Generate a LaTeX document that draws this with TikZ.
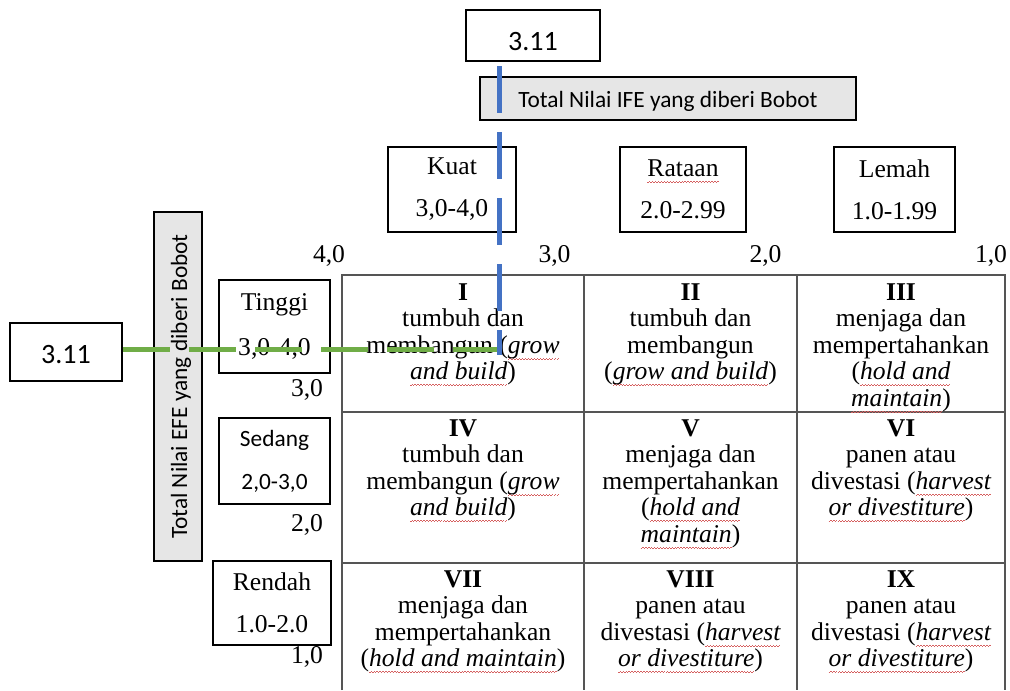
\documentclass[tikz,border=0pt]{standalone}
\usepackage{fontspec}
\setmainfont{Liberation Serif}
\newfontfamily\calibri{Carlito}
\definecolor{ifeblue}{RGB}{68,114,196}
\definecolor{efegreen}{RGB}{112,173,71}
\definecolor{axisgray}{RGB}{230,230,230}
\definecolor{gridgray}{RGB}{85,85,85}
\definecolor{spellred}{RGB}{214,96,96}
\newsavebox\spellbox
\newcommand\spell[1]{\sbox\spellbox{#1}\rlap{\hbox to\wd\spellbox{\color{spellred}%
  \xleaders\hbox{\rule[-4.8pt]{1.1pt}{0.55pt}\rule[-4.1pt]{1.1pt}{0.55pt}}\hfil}}\usebox\spellbox}
\begin{document}
\begin{tikzpicture}[x=0.75pt,y=-0.75pt,
  valbox/.style={draw,line width=1.6pt,inner sep=0pt,text depth=0pt,
    font=\calibri\fontsize{21}{21}\selectfont},
  axisbox/.style={draw,fill=axisgray,line width=1.8pt,inner sep=0pt,
    text depth=0pt,font=\calibri\fontsize{17.5}{17.5}\selectfont},
  rangebox/.style={draw,line width=1.3pt,inner sep=0pt,align=center,
    font=\fontsize{19.2}{31.5}\selectfont},
  scalelab/.style={anchor=base,inner sep=0pt,font=\fontsize{19.2}{20}\selectfont},
  cell/.style={anchor=north,align=center,inner sep=0pt,
    font=\fontsize{19.2}{19.9}\selectfont},
  gridline/.style={draw=gridgray,line width=1.1pt},
  ifeline/.style={draw=ifeblue,line width=3.75pt,dash pattern=on 35.25pt off 14.25pt},
  efeline/.style={ifeline,draw=efegreen}]
\useasboundingbox (0,0) rectangle (1010,690);
\node[valbox,minimum width=100.5pt,minimum height=38.25pt,text height=21.8pt] (ifeval) at (533,35.5) {3.11};
\node[valbox,minimum width=84pt,minimum height=43.5pt,text height=16.5pt] (efeval) at (66,352) {3.11};
\node[axisbox,minimum width=282pt,minimum height=31.9pt,text height=12.8pt] (ifeaxis) at (668,98.5)
  {Total Nilai IFE yang diberi Bobot};
\node[axisbox,rotate=90,minimum width=261.75pt,minimum height=36pt,text height=13.5pt] (efeaxis) at (178,386.5)
  {Total Nilai EFE yang diberi Bobot};
\node[rangebox,minimum width=96pt,minimum height=63.75pt] (kuat) at (452,189.5) {Kuat\\3,0-4,0};
\node[rangebox,minimum width=94.5pt,minimum height=63.75pt] (rataan) at (683,189.5) {\spell{Rataan}\\2.0-2.99};
\node[rangebox,minimum width=90.75pt,minimum height=63.75pt] (lemah) at (894.5,189.5) {Lemah\\1.0-1.99};
\node[rangebox,minimum width=83.25pt,minimum height=69.75pt,font=\fontsize{19.2}{33.75}\selectfont] (tinggi) at (274.5,326.5)
  {Tinggi\\3,0-4,0};
\node[rangebox,minimum width=83.25pt,minimum height=64.5pt,font=\calibri\fontsize{17.5}{32.25}\selectfont] (sedang) at (274.5,461)
  {Sedang\\2,0-3,0};
\node[rangebox,line width=1.8pt,minimum width=88.5pt,minimum height=63pt] (rendah) at (272,603) {Rendah\\1.0-2.0};
\node[scalelab] (ife4) at (329,262) {4,0};
\node[scalelab] (ife3) at (554.5,262) {3,0};
\node[scalelab] (ife2) at (765.5,262) {2,0};
\node[scalelab] (ife1) at (991,262) {1,0};
\node[scalelab] (efe3) at (307,396) {3,0};
\node[scalelab] (efe2) at (307,531) {2,0};
\node[scalelab] (efe1) at (307,663) {1,0};
\draw[gridline] (342,690) |- (1005,275) -- (1005,690);
\draw[gridline] (584,275) -- (584,690) (797,275) -- (797,690);
\draw[gridline] (342,412) -- (1005,412) (342,563) -- (1005,563);
\node[cell] (sel1) at (463,283) {\textbf{I}\\tumbuh dan\\membangun (\textit{\spell{grow}}\\\textit{\spell{and build}})};
\node[cell] (sel2) at (690.5,283) {\textbf{II}\\tumbuh dan\\membangun\\(\textit{\spell{grow and build}})};
\node[cell] (sel3) at (901,283) {\textbf{III}\\menjaga dan\\mempertahankan\\(\textit{\spell{hold and}}\\\textit{\spell{maintain}})};
\node[cell] (sel4) at (463,419) {\textbf{IV}\\tumbuh dan\\membangun (\textit{\spell{grow}}\\\textit{\spell{and build}})};
\node[cell] (sel5) at (690.5,419) {\textbf{V}\\menjaga dan\\mempertahankan\\(\textit{\spell{hold and}}\\\textit{\spell{maintain}})};
\node[cell] (sel6) at (901,419) {\textbf{VI}\\panen atau\\divestasi (\textit{\spell{harvest}}\\\textit{\spell{or divestiture}})};
\node[cell] (sel7) at (463,570) {\textbf{VII}\\menjaga dan\\mempertahankan\\(\textit{\spell{hold and maintain}})};
\node[cell] (sel8) at (690.5,570) {\textbf{VIII}\\panen atau\\divestasi (\textit{\spell{harvest}}\\\textit{\spell{or divestiture}})};
\node[cell] (sel9) at (901,570) {\textbf{IX}\\panen atau\\divestasi (\textit{\spell{harvest}}\\\textit{\spell{or divestiture}})};
\coordinate (hit) at (499,349);
\draw[efeline] (efeval.east |- hit) -- (hit);
\draw[ifeline,shorten <=3pt,shorten >=-4.5pt] (ifeval.south -| hit) -- (hit);
\end{tikzpicture}
\end{document}
